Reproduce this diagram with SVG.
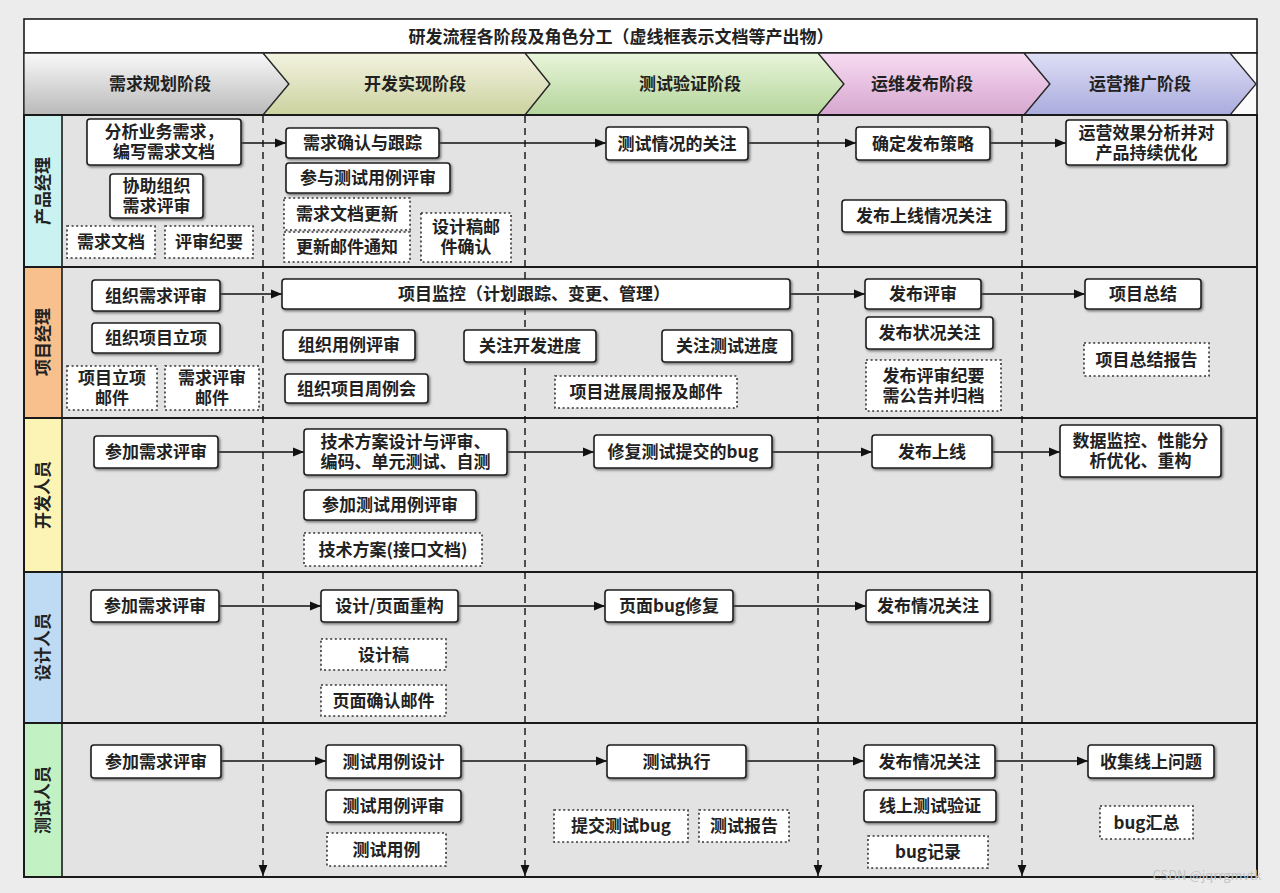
<svg xmlns="http://www.w3.org/2000/svg" width="1280" height="893" viewBox="0 0 1280 893">
<style>
text{font-family:"Noto Sans CJK SC","Noto Sans",sans-serif;font-weight:700;font-size:17px;fill:#222;text-anchor:middle}
.n rect{fill:#fff;stroke:#1e1e1e;stroke-width:1.6;filter:url(#sh)}
.d rect{fill:#fff;stroke:#333;stroke-width:1.6;stroke-dasharray:2 2.6}
.ph{stroke:#2a2a2a;stroke-width:1.3}
.sep{stroke:#1a1a1a;stroke-width:2.2}
.vl{stroke:#111;stroke-width:1.4;stroke-dasharray:7 5;fill:none}
.ar{stroke:#111;stroke-width:1.6;fill:none}
</style>
<defs>
<filter id="sh" x="-10%" y="-20%" width="130%" height="150%"><feDropShadow dx="1.4" dy="1.6" stdDeviation="0.8" flood-color="#444" flood-opacity="0.7"/></filter>
<marker id="ah" viewBox="0 0 10 10" refX="10" refY="5" markerWidth="11" markerHeight="11" markerUnits="userSpaceOnUse" orient="auto"><path d="M0,1 L10,5 L0,9 z" fill="#111"/></marker>
<linearGradient id="g1" x1="0" y1="0" x2="0" y2="1"><stop offset="0" stop-color="#f9f9f9"/><stop offset="1" stop-color="#b9b9b9"/></linearGradient>
<linearGradient id="g2" x1="0" y1="0" x2="0" y2="1"><stop offset="0" stop-color="#f3f3e0"/><stop offset="1" stop-color="#ccd29f"/></linearGradient>
<linearGradient id="g3" x1="0" y1="0" x2="0" y2="1"><stop offset="0" stop-color="#e8f5da"/><stop offset="1" stop-color="#b5d59b"/></linearGradient>
<linearGradient id="g4" x1="0" y1="0" x2="0" y2="1"><stop offset="0" stop-color="#f7dcf2"/><stop offset="1" stop-color="#d6a6cf"/></linearGradient>
<linearGradient id="g5" x1="0" y1="0" x2="0" y2="1"><stop offset="0" stop-color="#dfdff7"/><stop offset="1" stop-color="#a9abdc"/></linearGradient>
</defs>
<rect x="0" y="0" width="1280" height="893" fill="#ececec"/>
<g id="frame">
<rect x="24" y="19" width="1233" height="34" fill="#fff" stroke="#1a1a1a" stroke-width="1.6"/>
<text x="621" y="43">研发流程各阶段及角色分工（虚线框表示文档等产出物）</text>
<rect x="24" y="53" width="1233" height="62" fill="#fafafa" stroke="#1a1a1a" stroke-width="1.6"/>
<rect x="62" y="115" width="1195" height="762" fill="#e3e3e3"/>
</g>
<g id="phases">
<g id="ph1"><polygon class="ph" fill="url(#g1)" points="24,53 263,53 289,84 263,115 24,115"/><text x="160" y="90">需求规划阶段</text></g>
<g id="ph2"><polygon class="ph" fill="url(#g2)" points="263,53 525,53 550,84 525,115 263,115 289,84"/><text x="415" y="90">开发实现阶段</text></g>
<g id="ph3"><polygon class="ph" fill="url(#g3)" points="525,53 818,53 844,84 818,115 525,115 550,84"/><text x="690" y="90">测试验证阶段</text></g>
<g id="ph4"><polygon class="ph" fill="url(#g4)" points="818,53 1024,53 1050,84 1024,115 818,115 844,84"/><text x="922" y="90">运维发布阶段</text></g>
<g id="ph5"><polygon class="ph" fill="url(#g5)" points="1024,53 1230,53 1256,84 1230,115 1024,115 1050,84"/><text x="1140" y="90">运营推广阶段</text></g>
</g>
<g id="lanes">
<g id="lane1"><rect x="24" y="115" width="38" height="152" fill="#c9f2f1" stroke="#1a1a1a" stroke-width="1.6"/><text transform="translate(43,191) rotate(-90)" y="6">产品经理</text></g>
<g id="lane2"><rect x="24" y="267" width="38" height="151" fill="#f7c08c" stroke="#1a1a1a" stroke-width="1.6"/><text transform="translate(43,342) rotate(-90)" y="6">项目经理</text></g>
<g id="lane3"><rect x="24" y="418" width="38" height="154" fill="#fbf4b4" stroke="#1a1a1a" stroke-width="1.6"/><text transform="translate(43,495) rotate(-90)" y="6">开发人员</text></g>
<g id="lane4"><rect x="24" y="572" width="38" height="151" fill="#bfdaf3" stroke="#1a1a1a" stroke-width="1.6"/><text transform="translate(43,647) rotate(-90)" y="6">设计人员</text></g>
<g id="lane5"><rect x="24" y="723" width="38" height="154" fill="#c2f1c3" stroke="#1a1a1a" stroke-width="1.6"/><text transform="translate(43,800) rotate(-90)" y="6">测试人员</text></g>
<line class="sep" x1="24" y1="267" x2="1257" y2="267"/>
<line class="sep" x1="24" y1="418" x2="1257" y2="418"/>
<line class="sep" x1="24" y1="572" x2="1257" y2="572"/>
<line class="sep" x1="24" y1="723" x2="1257" y2="723"/>
<rect x="24" y="115" width="1233" height="762" fill="none" stroke="#1a1a1a" stroke-width="2"/>
</g>
<g id="connectors">
<path class="vl" d="M263,116 V876" marker-end="url(#ah)"/>
<path class="vl" d="M525,116 V876" marker-end="url(#ah)"/>
<path class="vl" d="M818,116 V876" marker-end="url(#ah)"/>
<path class="vl" d="M1022,116 V876" marker-end="url(#ah)"/>
<path class="ar" d="M241,143 H286" marker-end="url(#ah)"/>
<path class="ar" d="M439,143 H606" marker-end="url(#ah)"/>
<path class="ar" d="M748,143 H856" marker-end="url(#ah)"/>
<path class="ar" d="M990,143 H1066" marker-end="url(#ah)"/>
<path class="ar" d="M220,294 H282" marker-end="url(#ah)"/>
<path class="ar" d="M790,294 H865" marker-end="url(#ah)"/>
<path class="ar" d="M981,294 H1085" marker-end="url(#ah)"/>
<path class="ar" d="M218,452 H304" marker-end="url(#ah)"/>
<path class="ar" d="M507,452 H594" marker-end="url(#ah)"/>
<path class="ar" d="M772,452 H872" marker-end="url(#ah)"/>
<path class="ar" d="M992,452 H1060" marker-end="url(#ah)"/>
<path class="ar" d="M219,606 H321" marker-end="url(#ah)"/>
<path class="ar" d="M458,606 H605" marker-end="url(#ah)"/>
<path class="ar" d="M733,606 H866" marker-end="url(#ah)"/>
<path class="ar" d="M221,761 H326" marker-end="url(#ah)"/>
<path class="ar" d="M461,761 H607" marker-end="url(#ah)"/>
<path class="ar" d="M746,761 H864" marker-end="url(#ah)"/>
<path class="ar" d="M995,761 H1088" marker-end="url(#ah)"/>
</g>
<g id="n1" class="n"><rect x="87" y="119" width="154" height="46" rx="3"/><text x="164" y="138">分析业务需求，<tspan x="164" dy="20">编写需求文档</tspan></text></g>
<g id="n2" class="n"><rect x="110" y="174" width="93" height="44" rx="3"/><text x="156.5" y="192">协助组织<tspan x="156.5" dy="20">需求评审</tspan></text></g>
<g id="d1" class="d"><rect x="67" y="226" width="88" height="32"/><text x="111" y="248">需求文档</text></g>
<g id="d2" class="d"><rect x="165" y="226" width="88" height="32"/><text x="209" y="248">评审纪要</text></g>
<g id="n3" class="n"><rect x="286" y="128" width="153" height="30" rx="3"/><text x="362.5" y="149">需求确认与跟踪</text></g>
<g id="n4" class="n"><rect x="286" y="163" width="164" height="30" rx="3"/><text x="368" y="184">参与测试用例评审</text></g>
<g id="d3" class="d"><rect x="284" y="198" width="126" height="32"/><text x="347" y="220">需求文档更新</text></g>
<g id="d4" class="d"><rect x="284" y="232" width="126" height="30"/><text x="347" y="253">更新邮件通知</text></g>
<g id="d5" class="d"><rect x="421" y="213" width="90" height="49"/><text x="466" y="233">设计稿邮<tspan x="466" dy="20">件确认</tspan></text></g>
<g id="n5" class="n"><rect x="606" y="127" width="142" height="33" rx="3"/><text x="677" y="149.5">测试情况的关注</text></g>
<g id="n6" class="n"><rect x="856" y="127" width="134" height="33" rx="3"/><text x="923" y="149.5">确定发布策略</text></g>
<g id="n7" class="n"><rect x="842" y="200" width="164" height="32" rx="3"/><text x="924" y="222">发布上线情况关注</text></g>
<g id="n8" class="n"><rect x="1066" y="120" width="161" height="45" rx="3"/><text x="1146.5" y="138.5">运营效果分析并对<tspan x="1146.5" dy="20">产品持续优化</tspan></text></g>
<g id="n9" class="n"><rect x="92" y="280" width="128" height="31" rx="3"/><text x="156" y="301.5">组织需求评审</text></g>
<g id="n10" class="n"><rect x="92" y="323" width="128" height="30" rx="3"/><text x="156" y="344">组织项目立项</text></g>
<g id="d6" class="d"><rect x="67" y="366" width="90" height="44"/><text x="112" y="384">项目立项<tspan x="112" dy="20">邮件</tspan></text></g>
<g id="d7" class="d"><rect x="165" y="366" width="94" height="44"/><text x="212" y="384">需求评审<tspan x="212" dy="20">邮件</tspan></text></g>
<g id="n11" class="n"><rect x="282" y="279" width="508" height="30" rx="3"/><text x="534" y="300">项目监控（计划跟踪、变更、管理）</text></g>
<g id="n12" class="n"><rect x="283" y="330" width="132" height="30" rx="3"/><text x="349" y="351">组织用例评审</text></g>
<g id="n13" class="n"><rect x="285" y="374" width="143" height="29" rx="3"/><text x="356.5" y="394.5">组织项目周例会</text></g>
<g id="n14" class="n"><rect x="464" y="330" width="132" height="32" rx="3"/><text x="530" y="352">关注开发进度</text></g>
<g id="n15" class="n"><rect x="662" y="330" width="130" height="32" rx="3"/><text x="727" y="352">关注测试进度</text></g>
<g id="d8" class="d"><rect x="555" y="376" width="182" height="32"/><text x="646" y="398">项目进展周报及邮件</text></g>
<g id="n16" class="n"><rect x="865" y="279" width="116" height="30" rx="3"/><text x="923" y="300">发布评审</text></g>
<g id="n17" class="n"><rect x="866" y="317" width="127" height="32" rx="3"/><text x="929.5" y="339">发布状况关注</text></g>
<g id="d9" class="d"><rect x="866" y="360" width="135" height="51"/><text x="933.5" y="381.5">发布评审纪要<tspan x="933.5" dy="20">需公告并归档</tspan></text></g>
<g id="n18" class="n"><rect x="1085" y="279" width="116" height="30" rx="3"/><text x="1143" y="300">项目总结</text></g>
<g id="d10" class="d"><rect x="1084" y="343" width="125" height="33"/><text x="1146.5" y="365.5">项目总结报告</text></g>
<g id="n19" class="n"><rect x="94" y="436" width="124" height="32" rx="3"/><text x="156" y="458">参加需求评审</text></g>
<g id="n20" class="n"><rect x="304" y="429" width="203" height="46" rx="3"/><text x="405.5" y="448">技术方案设计与评审、<tspan x="405.5" dy="20">编码、单元测试、自测</tspan></text></g>
<g id="n21" class="n"><rect x="304" y="490" width="172" height="30" rx="3"/><text x="390" y="511">参加测试用例评审</text></g>
<g id="d11" class="d"><rect x="304" y="533" width="178" height="33"/><text x="393" y="555.5">技术方案(接口文档)</text></g>
<g id="n22" class="n"><rect x="594" y="435" width="178" height="33" rx="3"/><text x="683" y="457.5">修复测试提交的bug</text></g>
<g id="n23" class="n"><rect x="872" y="435" width="120" height="33" rx="3"/><text x="932" y="457.5">发布上线</text></g>
<g id="n24" class="n"><rect x="1060" y="425" width="161" height="52" rx="3"/><text x="1140.5" y="447">数据监控、性能分<tspan x="1140.5" dy="20">析优化、重构</tspan></text></g>
<g id="n25" class="n"><rect x="91" y="590" width="128" height="32" rx="3"/><text x="155" y="612">参加需求评审</text></g>
<g id="n26" class="n"><rect x="321" y="590" width="137" height="32" rx="3"/><text x="389.5" y="612">设计/页面重构</text></g>
<g id="d12" class="d"><rect x="321" y="639" width="125" height="31"/><text x="383.5" y="660.5">设计稿</text></g>
<g id="d13" class="d"><rect x="321" y="685" width="125" height="31"/><text x="383.5" y="706.5">页面确认邮件</text></g>
<g id="n27" class="n"><rect x="605" y="590" width="128" height="32" rx="3"/><text x="669" y="612">页面bug修复</text></g>
<g id="n28" class="n"><rect x="866" y="590" width="124" height="32" rx="3"/><text x="928" y="612">发布情况关注</text></g>
<g id="n29" class="n"><rect x="91" y="745" width="130" height="33" rx="3"/><text x="156" y="767.5">参加需求评审</text></g>
<g id="n30" class="n"><rect x="326" y="745" width="135" height="33" rx="3"/><text x="393.5" y="767.5">测试用例设计</text></g>
<g id="n31" class="n"><rect x="326" y="790" width="135" height="32" rx="3"/><text x="393.5" y="812">测试用例评审</text></g>
<g id="d14" class="d"><rect x="327" y="833" width="119" height="33"/><text x="386.5" y="855.5">测试用例</text></g>
<g id="n32" class="n"><rect x="607" y="745" width="139" height="33" rx="3"/><text x="676.5" y="767.5">测试执行</text></g>
<g id="d15" class="d"><rect x="554" y="810" width="134" height="32"/><text x="621" y="832">提交测试bug</text></g>
<g id="d16" class="d"><rect x="699" y="810" width="90" height="32"/><text x="744" y="832">测试报告</text></g>
<g id="n33" class="n"><rect x="864" y="745" width="131" height="33" rx="3"/><text x="929.5" y="767.5">发布情况关注</text></g>
<g id="n34" class="n"><rect x="864" y="790" width="132" height="32" rx="3"/><text x="930" y="812">线上测试验证</text></g>
<g id="d17" class="d"><rect x="868" y="836" width="120" height="32"/><text x="928" y="858">bug记录</text></g>
<g id="n35" class="n"><rect x="1088" y="745" width="126" height="33" rx="3"/><text x="1151" y="767.5">收集线上问题</text></g>
<g id="d18" class="d"><rect x="1100" y="806" width="93" height="33"/><text x="1146.5" y="828.5">bug汇总</text></g>
<text x="1207" y="880" style="font-size:13px;font-weight:400;fill:#c4c4c4">CSDN @jqrrgmvtk</text>
</svg>
